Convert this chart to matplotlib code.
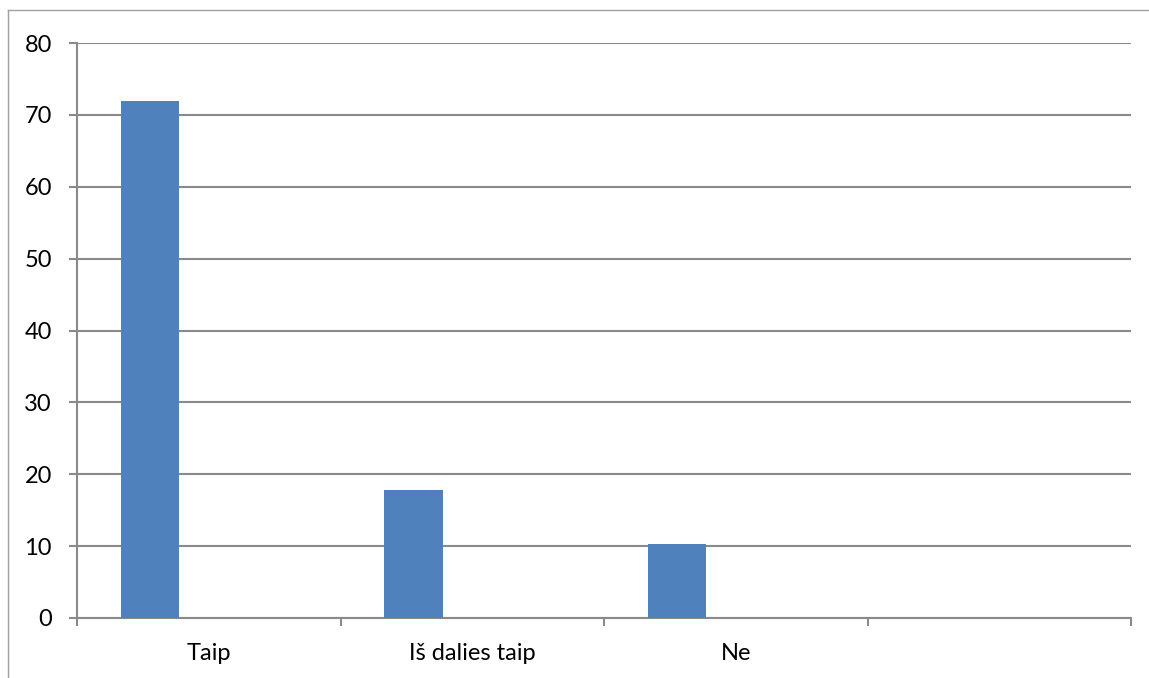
import numpy as np
import matplotlib
matplotlib.use('AGG')
import matplotlib.pyplot as plt
from matplotlib.lines import Line2D

# survey answers, share of respondents (%)
categories = ['Taip', 'Iš dalies taip', 'Ne', '']
values = [71.9, 17.8, 10.3, 0]
y_ticks = [0, 10, 20, 30, 40, 50, 60, 70, 80]

bar_color = '#4F81BD'
line_gray = '#8A8A8A'

plt.rcParams['font.family'] = ['Lato', 'DejaVu Sans']

fig = plt.figure(figsize=(11.49, 6.78), dpi=100)
ax = fig.add_axes([77 / 1149, 1 - 618 / 678, (1131 - 77) / 1149, (618 - 43) / 678])

# excel-like clustered layout: each category slot is 1 wide,
# series bar = 1/4.5 of the slot, starting after half the gap
slot = np.arange(len(categories))
bar_w = 1 / 4.5
ax.bar(slot + 0.75 / 4.5, values, width=bar_w, align='edge', color=bar_color,
       zorder=3, linewidth=0)

ax.set_xlim(0, len(categories))
ax.set_ylim(0, 80)

ax.set_yticks(y_ticks)
ax.yaxis.grid(True, color=line_gray, linewidth=1.5, zorder=0)
ax.tick_params(axis='y', length=6, width=1.5, color=line_gray, pad=12,
               labelsize=17, labelcolor='black')

# boundary ticks without labels, category names in the slot centres
ax.set_xticks(np.arange(len(categories) + 1))
ax.set_xticklabels([])
ax.set_xticks(slot + 0.5, minor=True)
ax.set_xticklabels(categories, minor=True)
ax.tick_params(axis='x', which='major', length=6, width=1.5, color=line_gray, direction='out')
ax.tick_params(axis='x', which='minor', length=0, pad=18, labelsize=17, labelcolor='black')

for s in ['top', 'right']:
    ax.spines[s].set_visible(False)
for s in ['left', 'bottom']:
    ax.spines[s].set_color(line_gray)
    ax.spines[s].set_linewidth(1.5)

# thin chart frame on the top and left edges
fig.add_artist(Line2D([8 / 1149, 8 / 1149], [0, 1 - 10 / 678], transform=fig.transFigure,
                      color='#A0A0A0', linewidth=1))
fig.add_artist(Line2D([8 / 1149, 1], [1 - 10 / 678, 1 - 10 / 678], transform=fig.transFigure,
                      color='#A0A0A0', linewidth=1))

fig.savefig('out.png', dpi=100)
